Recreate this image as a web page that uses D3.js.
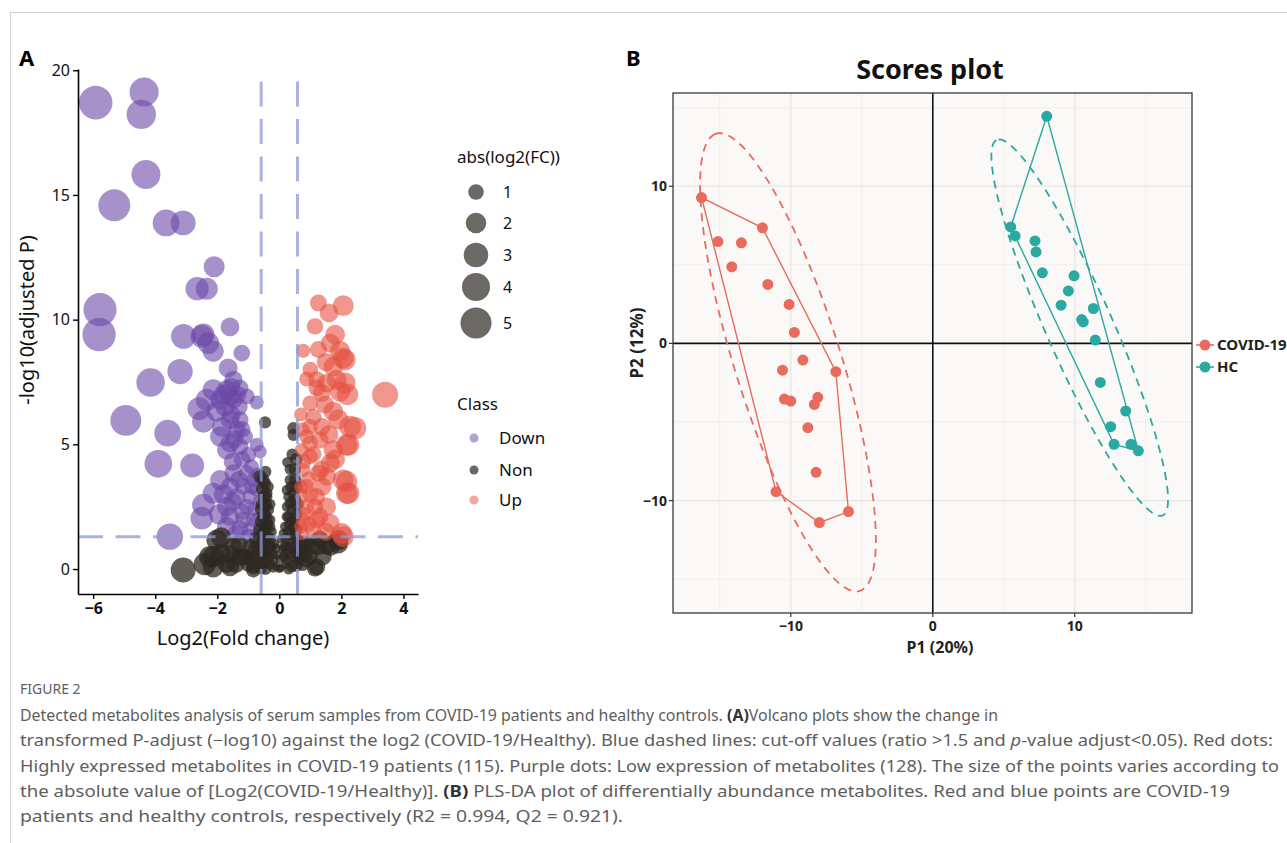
<!DOCTYPE html>
<html>
<head>
<meta charset="utf-8">
<script src="https://cdn.jsdelivr.net/npm/d3@7"></script>
<style>
body { margin: 0; background: #fff; }
svg { display: block; font-family: "Noto Sans", sans-serif; }
</style>
</head>
<body>
<svg id="fig" width="1287" height="843"></svg>
<script>
// ---- panel A : volcano plot (log2FC, -log10 adjusted P) ----
const downPts = [
  [-5.92,18.70],[-4.36,19.13],[-4.45,18.23],[-4.30,15.82],[-5.32,14.59],[-3.65,13.88],[-3.10,13.88],
  [-2.10,12.12],[-2.65,11.24],[-2.34,11.24],[-5.78,10.40],[-1.59,9.71],[-5.81,9.40],[-3.09,9.33],
  [-2.50,9.33],[-2.29,9.06],[-2.13,8.73],[-1.21,8.66],[-3.20,7.92],[-4.15,7.48],[-1.65,8.06],
  [-1.48,7.59],[-2.13,7.19],[-1.70,7.19],[-1.27,7.26],[-2.34,6.79],[-1.91,6.79],[-1.47,6.79],
  [-1.05,6.92],[-0.73,6.68],[-2.59,6.43],[-2.02,6.32],[-4.95,5.96],[-2.45,5.92],[-1.59,5.98],
  [-1.27,5.98],[-1.37,5.58],[-3.60,5.45],[-1.91,5.31],[-1.11,5.31],[-1.59,5.05],[-1.27,4.91],
  [-1.70,4.78],[-0.73,4.98],[-0.62,4.71],[-1.00,4.58],[-3.90,4.22],[-2.81,4.15],[-1.48,3.84],
  [-1.05,3.84],[-1.91,3.57],[-1.59,3.31],[-1.16,3.31],[-0.84,3.57],[-2.13,3.04],[-1.37,2.90],
  [-0.95,2.90],[-2.45,2.57],[-1.70,2.50],[-1.05,2.50],[-2.50,2.04],[-1.59,2.10],[-1.16,1.97],
  [-0.84,1.97],[-1.70,1.70],[-1.27,1.63],[-3.53,1.30],[-0.95,1.57],[-0.68,1.43],[-2.45,9.40],
  [-1.80,7.00],[-1.55,7.30],[-1.35,7.00],[-1.75,6.50],[-1.55,6.20],[-1.30,6.50],[-1.85,5.70],
  [-1.45,5.20],[-1.20,4.40],[-1.50,4.30],[-0.90,4.10],[-1.30,3.60],[-0.75,3.20],[-1.80,3.00],
  [-1.50,2.70],[-1.20,2.30],[-0.80,2.40],[-1.95,2.20],[-1.40,1.40],[-0.70,2.00],[-1.00,1.30],
  [-1.60,6.90],[-1.20,5.60],[-0.90,3.30],[-0.65,2.70],[-0.70,3.80]
];
const upPts = [
  [1.26,10.67],[2.06,10.56],[1.60,10.27],[1.15,9.73],[0.77,8.75],[1.26,8.80],[1.64,9.06],[1.96,8.73],
  [2.06,8.46],[1.74,8.12],[0.88,7.62],[1.21,7.26],[1.53,7.46],[1.85,7.59],[2.12,7.46],[1.37,7.06],
  [1.96,7.12],[3.41,6.99],[0.99,6.65],[1.47,6.59],[1.74,6.32],[0.99,5.71],[1.37,5.71],[2.28,5.71],
  [2.44,5.65],[0.88,5.31],[1.31,5.18],[2.17,4.98],[1.74,4.78],[0.99,4.51],[0.77,3.98],[1.26,3.84],
  [2.06,3.57],[2.17,3.04],[0.88,3.31],[1.21,2.90],[1.53,2.50],[0.88,2.50],[0.77,1.97],[1.21,1.97],
  [1.64,1.84],[2.01,1.43],[1.10,1.57],[0.72,1.43],[0.99,5.05],[0.72,4.78],[1.64,4.24],[1.53,3.71],
  [0.72,2.90],[2.12,8.39],[2.23,4.98],[2.17,3.51],[2.23,3.04],[2.06,1.30],
  [0.80,4.30],[1.10,4.60],[0.95,3.60],[1.40,3.30],[0.70,3.30],[1.15,2.50],[0.80,2.20],[1.30,2.10],
  [0.95,1.80],[1.50,1.50],[0.70,1.70],[1.00,3.00],[1.35,4.00],[0.75,5.60],[1.10,6.10],[1.60,5.40],
  [1.90,6.00],[1.80,4.40],[1.20,7.60],[1.00,8.00],[1.50,8.30],[1.80,9.40],[2.20,7.00],[0.70,6.20]
];
const nonPts = [
  [-0.62,3.71],[-0.46,3.44],[-0.41,2.90],[-0.35,2.37],[-0.30,1.97],[-0.52,3.57],[-0.41,3.04],
  [-0.52,2.10],[-0.30,1.70],[-0.46,5.88],[-0.55,2.60],[-0.45,2.20],[-0.38,1.80],[-0.50,1.50],
  [-0.35,1.30],[-0.25,1.50],[-0.55,3.20],[-0.48,2.50],[-0.58,1.90],[-0.40,1.10],
  [0.24,3.17],[0.35,2.64],[0.30,2.10],[0.18,1.70],[0.51,3.57],[0.26,4.28],[0.46,5.38],[0.45,5.65],
  [0.35,3.57],[0.45,3.04],[0.24,2.10],[0.13,1.43],[0.50,2.80],[0.55,2.20],[0.40,1.90],[0.28,1.50],
  [0.50,4.00],[0.42,4.60],[0.55,1.60],[0.20,1.20],[0.33,1.10],
  [-3.10,-0.04],[-2.13,0.09],[-1.88,1.27],[-2.13,0.49],[-1.59,0.09],[-1.48,0.90],[-1.16,0.49],
  [-0.84,0.09],[1.15,0.03],[1.64,0.90],[1.90,1.16],[1.26,0.90],[0.88,0.36],[-2.02,1.16],[-2.24,0.49],
  [-1.70,0.23],[-1.27,0.49],[1.21,0.09],[1.90,1.03],[1.53,0.96],[0.99,0.49],[0.88,1.03],[-0.84,-0.04],
  [-1.05,0.49],[-1.30,1.00],[-0.95,0.90],[-0.70,0.50],[-0.60,1.00],[-0.50,0.30],[-0.40,0.70],
  [-0.30,0.20],[-0.20,0.60],[-0.10,0.10],[0.00,0.40],[0.10,0.80],[0.20,0.20],[0.30,0.60],[0.40,0.10],
  [0.50,0.90],[0.60,0.40],[0.70,0.70],[0.75,0.20],[-0.15,1.00],[0.05,1.20],[-0.60,0.05],[0.65,1.10],
  [-0.75,1.20],[0.80,1.00],[-0.45,0.00],[0.30,0.00],[-0.25,0.90],[0.15,0.50],[-1.60,0.60],[1.40,0.50],
  [-0.55,0.80],[-0.50,1.20],[-0.45,1.70],[-0.42,2.60],[-0.50,2.90],[-0.36,3.30],[-0.58,2.40],
  [-0.30,2.60],[-0.28,1.20],[-0.33,0.90],[-0.55,1.40],[-0.62,1.60],[-0.45,3.90],[-0.40,2.00],
  [-0.50,0.60],[0.30,2.90],[0.42,2.40],[0.50,1.30],[0.45,1.70],[0.38,3.30],[0.56,3.30],[0.25,2.50],
  [0.32,1.80],[0.48,2.00],[0.58,2.60],[0.35,4.00],[0.55,4.40],[0.40,1.40],[0.22,0.90],[0.57,0.70],
  [-0.90,0.40],[-0.80,0.80],[-0.65,0.20],[-0.55,0.55],[-0.35,0.45],[-0.20,0.30],[-0.05,0.55],
  [0.05,0.05],[0.15,0.90],[0.25,0.35],[0.35,0.85],[0.45,0.50],[0.55,0.15],[0.65,0.60],[-0.10,0.85],
  [-0.30,0.65],[0.00,0.00],[-0.20,0.05],[0.20,0.65],[-0.70,0.90],[0.85,0.60],[-1.00,0.20],
  [1.05,0.90],[-1.40,0.20],[1.30,1.20],[-2.40,0.20],[-1.90,0.60]
];
const xTicksA = [-6, -4, -2, 0, 2, 4];
const yTicksA = [0, 5, 10, 15, 20];
const fcCut = [-0.585, 0.585];
const pCut = 1.3;
const sizeLevels = [1, 2, 3, 4, 5];
const classNames = ["Down", "Non", "Up"];

// ---- panel B : PLS-DA scores ----
const covidPts = [
  [-16.29,9.28],[-12.00,7.35],[-15.14,6.48],[-13.48,6.40],[-14.16,4.87],[-11.62,3.75],[-10.12,2.48],
  [-9.75,0.70],[-9.15,-1.06],[-6.83,-1.80],[-10.59,-1.70],[-10.45,-3.54],[-10.00,-3.67],[-8.10,-3.43],
  [-8.34,-3.88],[-8.80,-5.36],[-8.22,-8.20],[-11.04,-9.43],[-5.94,-10.70],[-7.99,-11.40]
];
const hcPts = [
  [8.03,14.45],[5.49,7.41],[5.80,6.84],[7.20,6.52],[7.27,5.82],[7.72,4.49],[9.95,4.30],[9.55,3.34],
  [9.04,2.43],[11.31,2.22],[10.49,1.52],[10.60,1.37],[11.45,0.21],[11.80,-2.48],[13.59,-4.30],
  [12.53,-5.30],[12.77,-6.42],[13.96,-6.42],[14.48,-6.83]
];
// ellipse: centre x, centre y, semi-major, semi-minor, angle of major axis (deg)
const covidEllipse = [-10.2, -1.2, 15.4, 3.7, 109.4];
const hcEllipse = [10.35, 1.0, 13.3, 2.3, 116.2];
const groupNames = ["COVID-19", "HC"];
const ticksB = [-10, 0, 10];
const gridB = [-15, -10, -5, 5, 10, 15];

const captionLines = [
  [["Detected metabolites analysis of serum samples from COVID-19 patients and healthy controls. ", "n"], ["(A)", "b"], ["Volcano plots show the change in", "n"]],
  [["transformed P-adjust (\u2212log10) against the log2 (COVID-19/Healthy). Blue dashed lines: cut-off values (ratio >1.5 and ", "n"], ["p", "i"], ["-value adjust<0.05). Red dots:", "n"]],
  [["Highly expressed metabolites in COVID-19 patients (115). Purple dots: Low expression of metabolites (128). The size of the points varies according to", "n"]],
  [["the absolute value of [Log2(COVID-19/Healthy)]. ", "n"], ["(B)", "b"], [" PLS-DA plot of differentially abundance metabolites. Red and blue points are COVID-19", "n"]],
  [["patients and healthy controls, respectively (R2 = 0.994, Q2 = 0.921).", "n"]]
];
const captionWidths = [978, 1253, 1259, 1210, 603];

const svg = d3.select("#fig");

// page frame
svg.append("path").attr("d", "M10.5,843 L10.5,12.5 L1287,12.5")
  .attr("fill", "none").attr("stroke", "#cfcfcf").attr("stroke-width", 1);

// ================= panel A =================
const xA = d3.scaleLinear().domain([-6.49, 4.47]).range([78, 418]);
const yA = d3.scaleLinear().domain([-1.0, 20.05]).range([594, 69]);
const areaA = d3.scaleLinear().domain([0, 5]).range([16, 241]);
const rA = v => Math.sqrt(areaA(Math.abs(v)));
const colA = { Down: "#6a48a6", Non: "#2e2822", Up: "#e6503f" };

const gA = svg.append("g");

const drawPts = (pts, cls, op) => {
  gA.append("g").selectAll("circle")
    .data(pts)
    .enter()
    .append("circle")
    .attr("cx", d => xA(d[0]))
    .attr("cy", d => yA(d[1]))
    .attr("r", d => rA(d[0]))
    .style("fill", colA[cls])
    .style("opacity", op);
};
drawPts(downPts, "Down", 0.6);
drawPts(nonPts, "Non", 0.75);
drawPts(upPts, "Up", 0.6);

// cut-off lines
const dash = "25,12.5";
fcCut.forEach(c => {
  gA.append("line")
    .attr("x1", xA(c)).attr("x2", xA(c))
    .attr("y1", yA.range()[0]).attr("y2", yA.range()[1])
    .attr("stroke", "#8e9ad6").attr("stroke-opacity", 0.75)
    .attr("stroke-width", 3).attr("stroke-dasharray", dash);
});
gA.append("line")
  .attr("x1", xA.range()[0]).attr("x2", xA.range()[1])
  .attr("y1", yA(pCut)).attr("y2", yA(pCut))
  .attr("stroke", "#8e9ad6").attr("stroke-opacity", 0.75)
  .attr("stroke-width", 3).attr("stroke-dasharray", dash);

// axes
const axL = gA.append("g").attr("transform", "translate(78,0)")
  .call(d3.axisLeft(yA).tickValues(yTicksA).tickSize(5).tickSizeOuter(0).tickPadding(3));
const axB = gA.append("g").attr("transform", "translate(0,594)")
  .call(d3.axisBottom(xA).tickValues(xTicksA).tickSize(5).tickSizeOuter(0).tickPadding(4));
[axL, axB].forEach(ax => {
  ax.select(".domain").attr("stroke", "#000").attr("stroke-width", 1.6);
  ax.selectAll(".tick line").attr("stroke", "#000").attr("stroke-width", 1.4);
  ax.selectAll("text").attr("fill", "#111").style("font-family", "Noto Sans").style("font-size", "16px");
});
axB.selectAll("text").style("font-weight", "bold");

gA.append("text").attr("transform", "translate(34,320) rotate(-90)")
  .attr("text-anchor", "middle").style("font-size", "20px").attr("fill", "#111")
  .text("-log10(adjusted P)");
gA.append("text").attr("x", 243).attr("y", 645)
  .attr("text-anchor", "middle").style("font-size", "20px").attr("fill", "#111")
  .text("Log2(Fold change)");
svg.append("text").attr("x", 19).attr("y", 66)
  .style("font-size", "22px").style("font-weight", "bold").text("A");

// legend A
const legA = svg.append("g");
legA.append("text").attr("x", 457).attr("y", 163).style("font-size", "17px").attr("fill", "#111")
  .text("abs(log2(FC))");
const sizeY = [192, 223, 255, 287, 323];
legA.selectAll("circle.size")
  .data(sizeLevels)
  .enter()
  .append("circle")
  .attr("cx", 476).attr("cy", (d, i) => sizeY[i])
  .attr("r", d => rA(d))
  .style("fill", colA.Non).style("opacity", 0.7);
legA.selectAll("text.size")
  .data(sizeLevels)
  .enter()
  .append("text")
  .attr("x", 503).attr("y", (d, i) => sizeY[i] + 6)
  .style("font-size", "16px").attr("fill", "#111")
  .text(d => d);
legA.append("text").attr("x", 457).attr("y", 410).style("font-size", "17px").attr("fill", "#111")
  .text("Class");
const clsY = [438, 470, 500];
legA.selectAll("circle.cls")
  .data(classNames)
  .enter()
  .append("circle")
  .attr("cx", 474).attr("cy", (d, i) => clsY[i]).attr("r", 4.5)
  .style("fill", d => colA[d]).style("opacity", d => d === "Non" ? 0.7 : 0.5);
legA.selectAll("text.cls")
  .data(classNames)
  .enter()
  .append("text")
  .attr("x", 499).attr("y", (d, i) => clsY[i] + 6)
  .style("font-size", "17px").attr("fill", "#111")
  .text(d => d);

// ================= panel B =================
const xB = d3.scaleLinear().domain([-18.3, 18.26]).range([673, 1192]);
const yB = d3.scaleLinear().domain([-17.15, 15.93]).range([613, 93]);
const colB = { "COVID-19": "#e96b5e", "HC": "#2aa9a3" };
const gB = svg.append("g");

gB.append("rect").attr("x", 673).attr("y", 93).attr("width", 519).attr("height", 520)
  .attr("fill", "#fbf9f7");
gB.selectAll("line.gx")
  .data(gridB)
  .enter()
  .append("line")
  .attr("x1", d => xB(d)).attr("x2", d => xB(d)).attr("y1", 93).attr("y2", 613)
  .attr("stroke", d => Math.abs(d) === 10 ? "#e7e4e2" : "#efedeb")
  .attr("stroke-width", d => Math.abs(d) === 10 ? 1.2 : 0.9);
gB.selectAll("line.gy")
  .data(gridB)
  .enter()
  .append("line")
  .attr("y1", d => yB(d)).attr("y2", d => yB(d)).attr("x1", 673).attr("x2", 1192)
  .attr("stroke", d => Math.abs(d) === 10 ? "#e7e4e2" : "#efedeb")
  .attr("stroke-width", d => Math.abs(d) === 10 ? 1.2 : 0.9);
gB.append("line").attr("x1", xB(0)).attr("x2", xB(0)).attr("y1", 93).attr("y2", 613)
  .attr("stroke", "#111").attr("stroke-width", 1.6);
gB.append("line").attr("y1", yB(0)).attr("y2", yB(0)).attr("x1", 673).attr("x2", 1192)
  .attr("stroke", "#111").attr("stroke-width", 1.6);

const ellipsePath = e => {
  const [cx, cy, a, b, ang] = e;
  const t = ang * Math.PI / 180;
  const pts = d3.range(0, 361, 3).map(k => {
    const s = k * Math.PI / 180;
    const u = a * Math.cos(s), v = b * Math.sin(s);
    return [xB(cx + u * Math.cos(t) - v * Math.sin(t)), yB(cy + u * Math.sin(t) + v * Math.cos(t))];
  });
  return d3.line()(pts) + "Z";
};

const drawGroup = (pts, ell, name) => {
  const c = colB[name];
  gB.append("path").attr("d", ellipsePath(ell))
    .attr("fill", "none").attr("stroke", c).attr("stroke-width", 1.8).attr("stroke-dasharray", "8,6");
  const hull = d3.polygonHull(pts.map(d => [xB(d[0]), yB(d[1])]));
  gB.append("path").attr("d", d3.line()(hull) + "Z")
    .attr("fill", "none").attr("stroke", c).attr("stroke-width", 1.4);
  gB.append("g").selectAll("circle")
    .data(pts)
    .enter()
    .append("circle")
    .attr("cx", d => xB(d[0])).attr("cy", d => yB(d[1])).attr("r", 5.5)
    .style("fill", c);
};
drawGroup(covidPts, covidEllipse, "COVID-19");
drawGroup(hcPts, hcEllipse, "HC");

gB.append("rect").attr("x", 673).attr("y", 93).attr("width", 519).attr("height", 520)
  .attr("fill", "none").attr("stroke", "#3a3a3a").attr("stroke-width", 1.3);

// ticks
gB.selectAll("line.tx").data(ticksB).enter().append("line")
  .attr("x1", d => xB(d)).attr("x2", d => xB(d)).attr("y1", 613).attr("y2", 617)
  .attr("stroke", "#333").attr("stroke-width", 1.2);
gB.selectAll("text.tx").data(ticksB).enter().append("text")
  .attr("x", d => xB(d)).attr("y", 631).attr("text-anchor", "middle")
  .style("font-size", "14px").style("font-weight", "bold").attr("fill", "#222")
  .text(d => d === 0 ? "0" : (d < 0 ? "\u2212" + Math.abs(d) : d));
gB.selectAll("line.ty").data(ticksB).enter().append("line")
  .attr("x1", 669).attr("x2", 673).attr("y1", d => yB(d)).attr("y2", d => yB(d))
  .attr("stroke", "#333").attr("stroke-width", 1.2);
gB.selectAll("text.ty").data(ticksB).enter().append("text")
  .attr("x", 667).attr("y", d => yB(d) + 5).attr("text-anchor", "end")
  .style("font-size", "14px").style("font-weight", "bold").attr("fill", "#222")
  .text(d => d === 0 ? "0" : (d < 0 ? "\u2212" + Math.abs(d) : d));

gB.append("text").attr("x", 940).attr("y", 653).attr("text-anchor", "middle")
  .style("font-size", "16px").style("font-weight", "bold").attr("fill", "#222").text("P1 (20%)");
gB.append("text").attr("transform", "translate(643,343) rotate(-90)").attr("text-anchor", "middle")
  .style("font-size", "17px").style("font-weight", "bold").attr("fill", "#222").text("P2 (12%)");
gB.append("text").attr("x", 930).attr("y", 79).attr("text-anchor", "middle")
  .style("font-size", "27px").style("font-weight", "bold").attr("fill", "#111").text("Scores plot");
svg.append("text").attr("x", 626).attr("y", 66)
  .style("font-size", "22px").style("font-weight", "bold").text("B");

// legend B
const legB = svg.append("g");
groupNames.forEach((g, i) => {
  const y = 345 + i * 22;
  legB.append("line").attr("x1", 1196).attr("x2", 1214).attr("y1", y).attr("y2", y)
    .attr("stroke", colB[g]).attr("stroke-width", 1.6);
  legB.append("circle").attr("cx", 1205).attr("cy", y).attr("r", 5.5).style("fill", colB[g]);
  legB.append("text").attr("x", 1217).attr("y", y + 5)
    .style("font-size", "15px").style("font-weight", "bold").attr("fill", "#222").text(g);
});

// ================= caption =================
svg.append("text").attr("x", 20).attr("y", 694)
  .style("font-size", "14px").attr("fill", "#5e5e5e").text("FIGURE 2");
const capY = [721, 746, 772, 797, 822];
captionLines.forEach((segs, i) => {
  const t = svg.append("text").attr("x", 20).attr("y", capY[i])
    .attr("textLength", captionWidths[i]).attr("lengthAdjust", "spacingAndGlyphs")
    .style("font-size", "15.5px").attr("fill", "#5e5e5e");
  segs.forEach(s => {
    t.append("tspan")
      .style("font-weight", s[1] === "b" ? "bold" : "normal")
      .style("font-style", s[1] === "i" ? "italic" : "normal")
      .attr("fill", s[1] === "b" ? "#333" : "#5e5e5e")
      .text(s[0]);
  });
});
</script>
</body>
</html>
